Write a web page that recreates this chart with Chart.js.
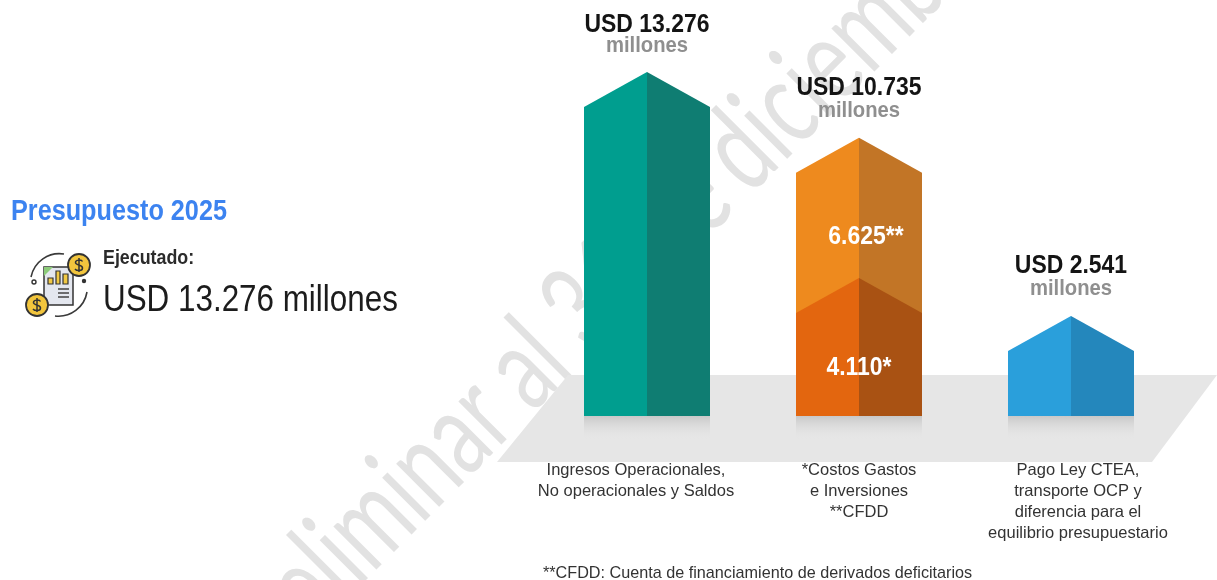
<!DOCTYPE html>
<html lang="es">
<head>
<meta charset="utf-8">
<title>Presupuesto 2025</title>
<script src="https://cdn.jsdelivr.net/npm/chart.js@4/dist/chart.umd.min.js"></script>
<style>
html,body{margin:0;padding:0;background:#fff;width:1217px;height:580px;overflow:hidden;font-family:"Liberation Sans",Arial,sans-serif}
body{filter:blur(.45px)}
#wm,#chartBox,.t,#icon{position:absolute}
#wm{left:0;top:0;width:1217px;height:580px}
#chartBox{left:0;top:0;width:1217px;height:580px}
.t{transform-origin:0 50%;white-space:nowrap}
#title{left:11px;top:194px;font-weight:700;font-size:29px;line-height:32px;color:#3c83f0;transform:scaleX(.87)}
#ejec{left:103px;top:246px;font-weight:700;font-size:20.500px;line-height:22px;color:#2b2b2b;transform:scaleX(.87)}
#big{left:103px;top:280px;font-size:36.500px;line-height:38px;color:#1c1c1c;transform:scaleX(.86)}
#foot{left:543px;top:563px;font-size:16.200px;line-height:18px;color:#333}
#icon{left:24px;top:250px}
</style>
</head>
<body>
<svg id="wm" viewBox="0 0 1217 580"><text transform="translate(258 688) rotate(-45) scale(.695 1)" font-family="Lato" font-size="120" fill="#e2e2e2"><tspan id="wmA"></tspan><tspan id="wmB" dx="-8"></tspan></text></svg>
<div id="chartBox"><canvas id="c" width="1217" height="580"></canvas></div>
<div class="t" id="title"></div>
<div class="t" id="ejec"></div>
<div class="t" id="big"></div>
<div class="t" id="foot"></div>
<svg id="icon" width="70" height="70" viewBox="0 0 70 70" fill="none">
  <path d="M7 27A29 29 0 0 1 40 4" stroke="#3a3a3a" stroke-width="1.6"/>
  <path d="M63 42A29 29 0 0 1 31 66" stroke="#3a3a3a" stroke-width="1.6"/>
  <path d="M20 17v38h29V17z" fill="#e4e7ef" stroke="#333" stroke-width="1.5"/>
  <path d="M20 17h9l-9 9z" fill="#8ccb7a"/>
  <path d="M24 34h5v-6h-5zM32 34h4V21h-4zM39 34h5v-10h-5z" fill="#f1c945" stroke="#333" stroke-width="1.2"/>
  <path d="M34 39h11M34 43h11M34 47h11" stroke="#444" stroke-width="1.6"/>
  <circle cx="55" cy="15" r="11" fill="#f2c53d" stroke="#333" stroke-width="1.8"/>
  <circle cx="13" cy="55" r="11" fill="#f2c53d" stroke="#333" stroke-width="1.8"/>
  <path d="M58.5 11.5c-1-2-7-2-7 1s7 2 7 5.500-6 3-7.500 1M55 8v14M16.500 51.500c-1-2-7-2-7 1s7 2 7 5.500-6 3-7.500 1M13 48v14" stroke="#333" stroke-width="1.5"/>
  <circle cx="10" cy="32" r="2" stroke="#333" stroke-width="1.4"/>
  <circle cx="60" cy="31" r="2.200" fill="#333"/>
</svg>
<script>
// Data
const categories = [
  ['Ingresos Operacionales,', 'No operacionales y Saldos'],
  ['*Costos Gastos', 'e Inversiones', '**CFDD'],
  ['Pago Ley CTEA,', 'transporte OCP y', 'diferencia para el', 'equilibrio presupuestario']
];
const totalLabels = ['USD 13.276', 'USD 10.735', 'USD 2.541'];
const unitLabel = 'millones';
const segmentLabels = ['4.110*', '6.625**'];
// The original infographic is not drawn to scale (2.541 and 4.110 stand taller than their
// values), so these are the drawn heights, in the units of the first bar.
const lowerSegment = [13276, 5326, 3860];
const upperSegment = [null, 5409, null];

const titleText = 'Presupuesto 2025';
const executedLabel = 'Ejecutado:';
const executedValue = 'USD 13.276 millones';
const footnote = '**CFDD: Cuenta de financiamiento de derivados deficitarios';
const watermarkStart = 'Preliminar al 31 de ';
const watermarkEnd = 'diciembre';

document.getElementById('title').textContent = titleText;
document.getElementById('ejec').textContent = executedLabel;
document.getElementById('big').textContent = executedValue;
document.getElementById('foot').textContent = footnote;
document.getElementById('wmA').textContent = watermarkStart;
document.getElementById('wmB').textContent = watermarkEnd;

const ROOF = 35;
const SANS = '"Liberation Sans", Arial, sans-serif';

class HouseBar extends Chart.BarElement {
  draw(ctx) {
    const {x, y, base, width} = this.getProps(['x', 'y', 'base', 'width']);
    const o = this.options;
    const half = width / 2;
    // an upper segment runs on behind the roof of the segment below it
    const bottom = o.borderWidth === 1 ? base + ROOF : base;
    ctx.save();
    ctx.fillStyle = o.backgroundColor;
    ctx.beginPath();
    ctx.moveTo(x, y); ctx.lineTo(x - half, y + ROOF); ctx.lineTo(x - half, bottom); ctx.lineTo(x, bottom);
    ctx.closePath(); ctx.fill();
    ctx.fillStyle = o.borderColor;
    ctx.beginPath();
    ctx.moveTo(x, y); ctx.lineTo(x + half, y + ROOF); ctx.lineTo(x + half, bottom); ctx.lineTo(x, bottom);
    ctx.closePath(); ctx.fill();
    ctx.restore();
  }
}
HouseBar.id = 'houseBar';
HouseBar.defaults = Object.assign({}, Chart.BarElement.defaults);
class HouseController extends Chart.BarController {}
HouseController.id = 'house';
HouseController.defaults = Object.assign({}, Chart.BarController.defaults, {dataElementType: 'houseBar'});
HouseController.overrides = Chart.BarController.overrides;
Chart.register(HouseBar, HouseController);

const labelNudge = [-11, 0, 7];
const headNudge = [2, -1, -1];
const nudged = new WeakSet();

function narrowText(ctx, text, x, y) {
  ctx.fillText(text, x, y, ctx.measureText(text).width * 0.9);
}

const scene = {
  id: 'scene',
  beforeDraw(chart) {
    const xs = chart.scales.x;
    const items = xs.getLabelItems();
    if (!nudged.has(items)) {
      nudged.add(items);
      items.forEach((it, i) => { it.options.translation[0] += labelNudge[i]; });
    }
  },
  beforeDatasetsDraw(chart) {
    const {ctx} = chart;
    const b = chart.scales.y.getPixelForValue(0);
    ctx.save();
    ctx.fillStyle = '#e6e6e6';
    ctx.beginPath();
    ctx.moveTo(568, b - 41); ctx.lineTo(1217, b - 41); ctx.lineTo(1152, b + 46); ctx.lineTo(497, b + 46);
    ctx.closePath(); ctx.fill();
    chart.getDatasetMeta(0).data.forEach(el => {
      const g = ctx.createLinearGradient(0, b, 0, b + 24);
      g.addColorStop(0, '#c8c8c8'); g.addColorStop(1, 'rgba(230,230,230,0)');
      ctx.fillStyle = g;
      ctx.fillRect(el.x - el.width / 2, b, el.width, 24);
    });
    ctx.restore();
  },
  afterDatasetsDraw(chart) {
    const {ctx} = chart;
    const m0 = chart.getDatasetMeta(0).data, m1 = chart.getDatasetMeta(1).data;
    ctx.save();
    ctx.textAlign = 'center';
    ctx.textBaseline = 'middle';
    categories.forEach((_, i) => {
      const top = upperSegment[i] != null ? m1[i] : m0[i];
      ctx.font = 'bold 25.500px ' + SANS;
      ctx.fillStyle = '#141414';
      narrowText(ctx, totalLabels[i], top.x, top.y - 49 + headNudge[i]);
      ctx.font = 'bold 22.500px ' + SANS;
      ctx.fillStyle = '#8f8f8f';
      narrowText(ctx, unitLabel, top.x, top.y - 27 + headNudge[i] / 2);
    });
    ctx.font = 'bold 25.500px ' + SANS;
    ctx.fillStyle = '#fff';
    narrowText(ctx, segmentLabels[0], m0[1].x, (m0[1].y + m0[1].base) / 2 + 21);
    narrowText(ctx, segmentLabels[1], m1[1].x + 7, (m1[1].y + m1[1].base) / 2 + 29);
    ctx.restore();
  }
};

new Chart(document.getElementById('c'), {
  type: 'house',
  data: {
    labels: categories,
    datasets: [
      {data: lowerSegment, borderWidth: 0,
       backgroundColor: ['#009e8f', '#e3660f', '#2a9fdb'],
       borderColor: ['#0f7d72', '#a95213', '#2487bc']},
      {data: upperSegment, borderWidth: 1,
       backgroundColor: ['#ee8a1e', '#ee8a1e', '#ee8a1e'],
       borderColor: ['#c27526', '#c27526', '#c27526']}
    ]
  },
  options: {
    responsive: false,
    animation: false,
    layout: {padding: {left: 541, right: 40, top: 0, bottom: 0}},
    barThickness: 126,
    plugins: {legend: {display: false}, tooltip: {enabled: false}},
    scales: {
      x: {
        stacked: true,
        grid: {display: false},
        border: {display: false},
        afterFit(s) { s.height = 164; },
        ticks: {
          autoSkip: false, maxRotation: 0, minRotation: 0, padding: 36,
          color: '#333',
          font: {family: SANS, size: 16.5, lineHeight: 1.27}
        }
      },
      y: {stacked: true, display: false, min: 0, max: 16055}
    }
  },
  plugins: [scene]
});
</script>
</body>
</html>
